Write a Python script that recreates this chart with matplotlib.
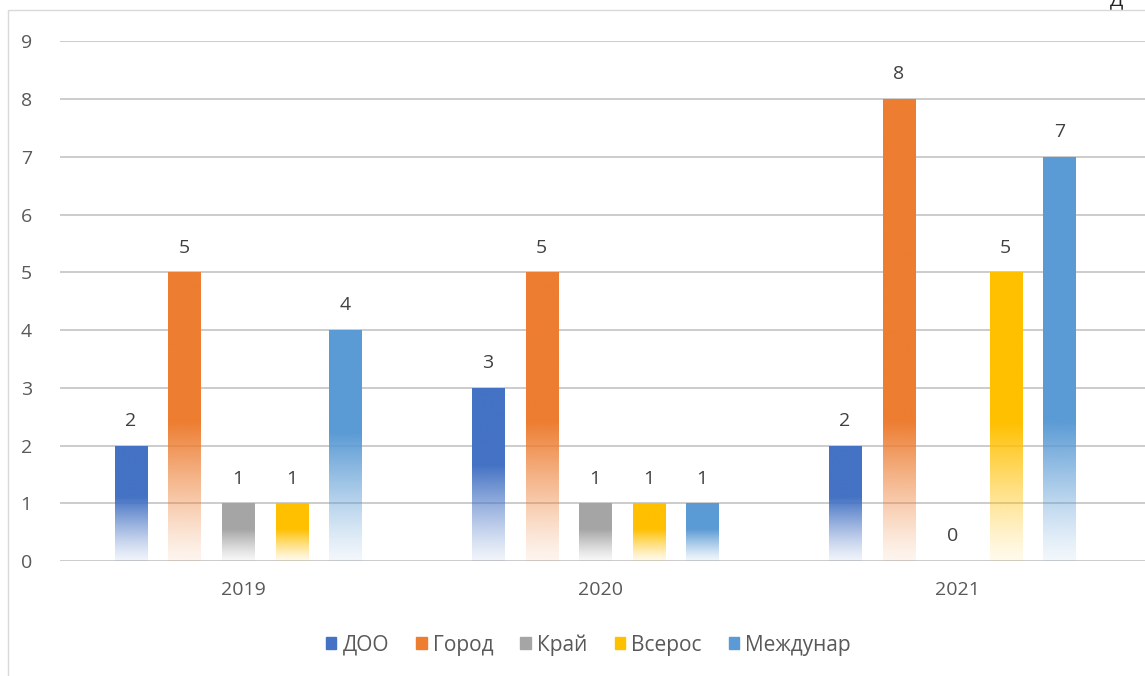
import matplotlib.pyplot as plt
import matplotlib.patches as patches
import matplotlib.transforms as mtransforms
import numpy as np
from matplotlib.colors import to_rgb

years = ["2019", "2020", "2021"]
series = ["ДОО", "Город", "Край", "Всерос", "Междунар"]
values = {
    "ДОО": [2, 3, 2],
    "Город": [5, 5, 8],
    "Край": [1, 1, 0],
    "Всерос": [1, 1, 5],
    "Междунар": [4, 1, 7],
}
colors = ["#4472C4", "#ED7D31", "#A5A5A5", "#FFC000", "#5B9BD5"]

plt.rcParams["font.family"] = ["Open Sans", "DejaVu Sans"]

fig = plt.figure(figsize=(11.45, 6.76), dpi=100)
ax = fig.add_axes([0.052, 0.170, 0.948, 0.769])

# light frame of the original chart area
fig.patches.append(patches.Rectangle((0.007, -0.1), 1.2, 1.085, transform=fig.transFigure,
                                     fill=False, edgecolor="#d9d9d9", linewidth=1.0))

x = np.arange(len(years))
width = 0.09
step = 0.150


def gradient_bar(bar, color):
    x0, y0 = bar.get_x(), bar.get_y()
    w, h = bar.get_width(), bar.get_height()
    if h <= 0:
        return
    n = 200
    yy = np.linspace(0, 1, n)[:, None]
    fade = min(2.4, h * 0.55) / h
    alpha = 0.08 + 0.92 * np.clip(yy / fade, 0, 1) ** 1.2
    rgb = np.array(to_rgb(color))
    img = np.ones((n, 1, 4))
    img[..., :3] = rgb
    img[..., 3] = alpha
    im = ax.imshow(img, extent=(x0, x0 + w, y0, y0 + h), origin="lower",
                   aspect="auto", zorder=2, interpolation="bilinear")
    im.set_clip_path(bar)


for i, (name, color) in enumerate(zip(series, colors)):
    offs = (i - 2) * step
    bars = ax.bar(x + offs, values[name], width, color="none", label=name, zorder=2)
    for bar, v in zip(bars, values[name]):
        gradient_bar(bar, color)
        ax.text(bar.get_x() + width / 2, v + 0.27, str(v), ha="center", va="bottom",
                fontsize=14, color="#404040")

ax.set_xlim(-0.5, 2.54)
ax.set_ylim(0, 9)
ax.set_yticks(range(10))
ax.yaxis.grid(True, color="#c8c8c8", linewidth=1.3, zorder=0)
ax.set_axisbelow(True)
ax.set_xticks(x)
ax.set_xticklabels(years)
ax.tick_params(axis="both", length=0, labelsize=14, colors="#595959")
ax.tick_params(axis="x", pad=14)
ax.tick_params(axis="y", pad=20)
shift = mtransforms.ScaledTranslation(5 / 100, 0, fig.dpi_scale_trans)
for lbl in ax.get_xticklabels():
    lbl.set_transform(lbl.get_transform() + shift)
for s in ax.spines.values():
    s.set_visible(False)

handles = [patches.Rectangle((0, 0), 1, 1, color=c) for c in colors]
fig.legend(handles, series, loc="center", bbox_to_anchor=(0.514, 0.046), ncol=5,
           frameon=False, fontsize=15, handlelength=0.5, handleheight=0.5,
           handletextpad=0.3, columnspacing=1.3, labelcolor="#595959")

fig.text(0.975, 1.0, "Д", ha="center", va="center", fontsize=14, color="#222222")

fig.savefig("out.png", dpi=100)
